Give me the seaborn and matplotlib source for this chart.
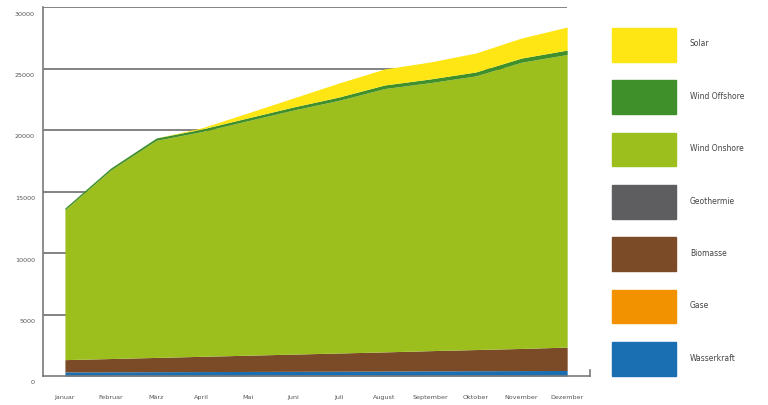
import numpy as np
import pandas as pd
import matplotlib
matplotlib.use("Agg")
from matplotlib import pyplot as plt
from matplotlib.patches import Patch
import seaborn as sns

# monthly values (stacked, bottom to top)
monate = ['Januar', 'Februar', 'März', 'April', 'Mai', 'Juni', 'Juli',
          'August', 'September', 'Oktober', 'November', 'Dezember']
wasserkraft = [330, 340, 350, 360, 370, 380, 390, 400, 420, 430, 440, 450]
gase = [0, 0, 0, 0, 0, 0, 0, 0, 0, 0, 0, 0]
biomasse = [1000, 1080, 1160, 1240, 1320, 1400, 1480, 1560, 1640, 1720, 1800, 1900]
geothermie = [0, 0, 0, 0, 0, 0, 0, 0, 0, 0, 0, 0]
wind_onshore = [12180, 15310, 17650, 18270, 19060, 19840, 20540, 21410, 21790, 22250, 23270, 23790]
wind_offshore = [150, 170, 190, 210, 230, 250, 270, 290, 300, 320, 340, 360]
solar = [0, 0, 0, 100, 400, 730, 1140, 1300, 1380, 1540, 1630, 1870]

y_ticks = [0, 5000, 10000, 15000, 20000, 25000, 30000]

df = pd.DataFrame({'Wasserkraft': wasserkraft, 'Gase': gase, 'Biomasse': biomasse,
                   'Geothermie': geothermie, 'Wind Onshore': wind_onshore,
                   'Wind Offshore': wind_offshore, 'Solar': solar}, index=monate)

farben = {'Wasserkraft': '#1a6fb3', 'Gase': '#f39200', 'Biomasse': '#7b4a26',
          'Geothermie': '#5e5e60', 'Wind Onshore': '#9dbf1e',
          'Wind Offshore': '#3f8f2a', 'Solar': '#fde614'}

sns.set_style('white')
plt.rcParams['font.family'] = ['DejaVu Sans']

fig = plt.figure(figsize=(7.68, 4.05), dpi=100)
ax = fig.add_axes([43 / 768, 29 / 405, 547 / 768, 369 / 405])

grau = '#7a7a7a'
# horizontal grid lines behind the area
ax.hlines(y_ticks[1:], -0.48, len(monate) - 1, color=grau, lw=1.3, zorder=0)

x = np.arange(len(monate))
ax.stackplot(x, [df[c] for c in df.columns], colors=[farben[c] for c in df.columns],
             zorder=2, lw=0)

ax.set_xlim(-0.48, 11.5)
ax.set_ylim(0, 30000)

ax.set_xticks(x)
ax.set_xticklabels(monate, fontsize=4.6, color='#555555')
ax.tick_params(axis='x', length=0, pad=14)
ax.set_yticks(y_ticks)
ax.set_yticklabels([])
ax.tick_params(axis='y', length=0)

# y labels sit a little below their grid lines
for v in y_ticks:
    ax.annotate(str(v), xy=(0, v), xycoords=ax.get_yaxis_transform(),
                xytext=(-8, -7), textcoords='offset pixels',
                ha='right', va='center', fontsize=4.6, color='#555555')

sns.despine(ax=ax, top=True, right=False)
for s in ['left', 'bottom', 'right']:
    ax.spines[s].set_color(grau)
    ax.spines[s].set_linewidth(1.2)
ax.spines['right'].set_bounds(0, 450)
ax.spines['left'].set_zorder(3)

reihenfolge = ['Solar', 'Wind Offshore', 'Wind Onshore', 'Geothermie', 'Biomasse', 'Gase', 'Wasserkraft']
handles = [Patch(facecolor=farben[n], edgecolor=farben[n]) for n in reihenfolge]
fig.legend(handles, reihenfolge, loc='upper left', bbox_to_anchor=(612 / 768, 1 - 28 / 405),
           frameon=False, borderpad=0, borderaxespad=0, fontsize=5.5,
           handlelength=8.4, handleheight=6.4, labelspacing=2.45, handletextpad=1.8,
           labelcolor='#444444')

fig.savefig('out.png', dpi=100)
